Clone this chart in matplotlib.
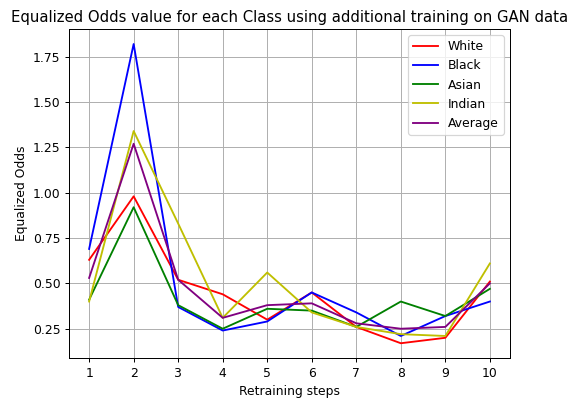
import matplotlib
matplotlib.use("Agg")
import matplotlib.pyplot as plt

# Data
steps = [1, 2, 3, 4, 5, 6, 7, 8, 9, 10]
white = [0.63, 0.98, 0.52, 0.44, 0.30, 0.45, 0.26, 0.17, 0.20, 0.51]
black = [0.69, 1.82, 0.37, 0.24, 0.29, 0.45, 0.34, 0.21, 0.32, 0.40]
asian = [0.41, 0.92, 0.38, 0.25, 0.36, 0.35, 0.26, 0.40, 0.32, 0.47]
indian = [0.40, 1.34, 0.83, 0.31, 0.56, 0.34, 0.26, 0.22, 0.21, 0.61]
average = [0.53, 1.27, 0.52, 0.31, 0.38, 0.39, 0.28, 0.25, 0.26, 0.50]

DPI = 89

# Plot
fig, ax = plt.subplots(figsize=(571 / DPI, 398 / DPI), dpi=DPI)
ax.plot(steps, white, color='r', label='White')
ax.plot(steps, black, color='b', label='Black')
ax.plot(steps, asian, color='g', label='Asian')
ax.plot(steps, indian, color='y', label='Indian')
ax.plot(steps, average, color='purple', label='Average')

ax.set_xticks(steps)
ax.set_xlabel('Retraining steps')
ax.set_ylabel('Equalized Odds')
ax.set_title('Equalized Odds value for each Class using additional training on GAN data')
ax.legend(loc='upper right')
ax.grid(True)

plt.subplots_adjust(left=0.121, right=0.893, top=0.927, bottom=0.1)
plt.savefig('out.png', dpi=DPI)
